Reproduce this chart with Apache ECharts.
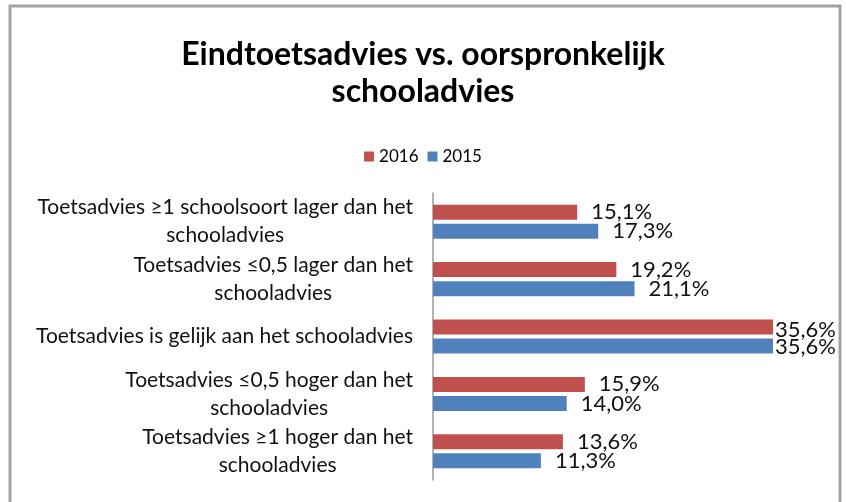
<!DOCTYPE html>
<html>
<head>
<meta charset="utf-8">
<script src="https://cdn.jsdelivr.net/npm/echarts@6/dist/echarts.min.js"></script>
<style>
html,body{margin:0;padding:0;background:#fff;}
#chart{width:846px;height:502px;}
</style>
</head>
<body>
<div id="chart"></div>
<script>
var categories = [
  'Toetsadvies ≥1 schoolsoort lager dan het\nschooladvies',
  'Toetsadvies ≤0,5 lager dan het\nschooladvies',
  'Toetsadvies is gelijk aan het schooladvies',
  'Toetsadvies ≤0,5 hoger dan het\nschooladvies',
  'Toetsadvies ≥1 hoger dan het\nschooladvies'
];
var values2016 = [15.1, 19.2, 35.6, 15.9, 13.6];
var values2015 = [17.3, 21.1, 35.6, 14.0, 11.3];
var seriesNames = ['2016', '2015'];

var FONT = 'Lato';
var chart = echarts.init(document.getElementById('chart'));
function fmtPct(p){ return p.value.toFixed(1).replace('.', ',') + '%'; }
function keepInside(p){
  var r = p.labelRect;
  if (r.x + r.width > 836) {
    return {x: 836 - r.width, y: r.y, align: 'left', verticalAlign: 'top'};
  }
  return {};
}
chart.setOption({
  animation: false,
  backgroundColor: '#fff',
  graphic: [{
    type: 'rect',
    shape: {x: 10, y: 6, width: 830, height: 530},
    style: {fill: 'none', stroke: '#a3a3a3', lineWidth: 3},
    silent: true
  }],
  title: {
    text: 'Eindtoetsadvies vs. oorspronkelijk\nschooladvies',
    left: 'center',
    top: 31,
    textStyle: {fontFamily: FONT, fontWeight: 'bold', fontSize: 32, lineHeight: 37, color: '#000'}
  },
  legend: {
    top: 143,
    left: 'center',
    itemWidth: 10,
    itemHeight: 10,
    itemGap: 9,
    icon: 'rect',
    textStyle: {fontFamily: FONT, fontSize: 17, color: '#000'},
    data: seriesNames
  },
  grid: {left: 433, top: 193, width: 382, bottom: 22, containLabel: false},
  xAxis: {
    type: 'value', min: 0, max: 40,
    show: false
  },
  yAxis: {
    type: 'category',
    inverse: true,
    data: categories,
    axisLine: {show: true, lineStyle: {color: '#999', width: 1.5}},
    axisTick: {show: false},
    axisLabel: {
      margin: 20,
      color: '#000',
      fontFamily: FONT,
      fontSize: 21,
      formatter: function (v) {
        return v.split('\n').map(function (s) { return '{c|' + s + '}'; }).join('\n');
      },
      rich: {c: {align: 'center', fontFamily: FONT, fontSize: 21, lineHeight: 28, color: '#111'}}
    }
  },
  series: [
    {
      name: seriesNames[0], type: 'bar', data: values2016,
      itemStyle: {color: '#C0504D'},
      barWidth: 15, barGap: '27%',
      label: {show: true, position: 'right', distance: 14, offset: [0, 3], formatter: fmtPct,
        fontFamily: FONT, fontSize: 22, color: '#111'},
      labelLayout: keepInside
    },
    {
      name: seriesNames[1], type: 'bar', data: values2015,
      itemStyle: {color: '#4F81BD'},
      barWidth: 15, barGap: '27%',
      label: {show: true, position: 'right', distance: 14, offset: [0, 1], formatter: fmtPct,
        fontFamily: FONT, fontSize: 22, color: '#111'},
      labelLayout: keepInside
    }
  ]
});
</script>
</body>
</html>
